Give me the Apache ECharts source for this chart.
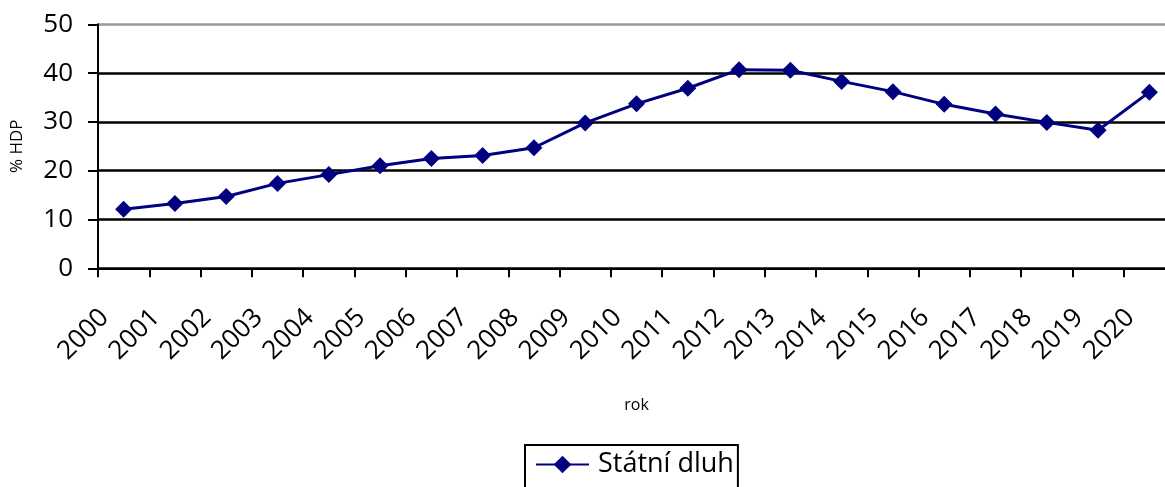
<!DOCTYPE html>
<html>
<head>
<meta charset="utf-8">
<script src="https://cdn.jsdelivr.net/npm/echarts@6/dist/echarts.min.js"></script>
<style>
  html, body { margin: 0; padding: 0; background: #fff; }
  #chart { width: 1165px; height: 487px; }
</style>
</head>
<body>
<div id="chart"></div>
<script>
// Roky (osa x)
const years = ['2000','2001','2002','2003','2004','2005','2006','2007','2008','2009','2010',
               '2011','2012','2013','2014','2015','2016','2017','2018','2019','2020'];
// Státní dluh v % HDP
const debt = [12.1, 13.3, 14.7, 17.4, 19.2, 21.0, 22.5, 23.1, 24.7, 29.8, 33.7,
              36.9, 40.7, 40.6, 38.3, 36.2, 33.6, 31.6, 29.9, 28.3, 36.1];
const seriesName = 'Státní dluh';
const yTicks = [0, 10, 20, 30, 40, 50];

const FONT = '"Open Sans", sans-serif';
const chart = echarts.init(document.getElementById('chart'), null, { renderer: 'canvas' });

chart.setOption({
  animation: false,
  backgroundColor: '#ffffff',
  grid: {
    left: 98, right: -10, top: 24.3, bottom: 218.7,
    containLabel: false,
    outerBoundsMode: 'none'
  },
  xAxis: {
    type: 'category',
    data: years,
    boundaryGap: true,
    name: 'rok',
    nameLocation: 'middle',
    nameGap: 129,
    nameTextStyle: { fontFamily: FONT, fontSize: 16, color: '#000' },
    axisLine: { show: true, lineStyle: { color: '#000', width: 2 } },
    axisTick: { show: true, length: 9, lineStyle: { color: '#000', width: 2 } },
    axisLabel: {
      rotate: 45,
      interval: 0,
      margin: 26,
      padding: [0, 27, 0, 0],
      fontFamily: FONT,
      fontSize: 26,
      color: '#000'
    },
    splitLine: { show: false }
  },
  yAxis: {
    type: 'value',
    min: yTicks[0],
    max: yTicks[yTicks.length - 1],
    interval: 10,
    name: '% HDP',
    nameLocation: 'middle',
    nameGap: 72,
    nameRotate: 90,
    nameTextStyle: { fontFamily: FONT, fontSize: 17, color: '#000' },
    axisLine: { show: true, lineStyle: { color: '#000', width: 2 } },
    axisTick: { show: true, inside: false, length: 10, lineStyle: { color: '#000', width: 2 } },
    axisLabel: { margin: 25, fontFamily: FONT, fontSize: 26, color: '#000' },
    splitLine: {
      show: true,
      lineStyle: { color: ['#000', '#000', '#000', '#000', '#000', '#999999'], width: 2.5 }
    }
  },
  legend: {
    show: true,
    left: 525,
    top: 445,
    orient: 'horizontal',
    borderColor: '#000',
    borderWidth: 2,
    padding: [6, 4, 30, 10],
    itemWidth: 53,
    itemHeight: 22,
    itemGap: 10,
    textStyle: { fontFamily: FONT, fontSize: 27, color: '#000', padding: [0, 0, 0, 4] },
    data: [seriesName]
  },
  series: [{
    name: seriesName,
    type: 'line',
    data: debt,
    symbol: 'diamond',
    symbolSize: 17,
    lineStyle: { color: '#000080', width: 3 },
    itemStyle: { color: '#000080' },
    clip: false
  }]
});
</script>
</body>
</html>
